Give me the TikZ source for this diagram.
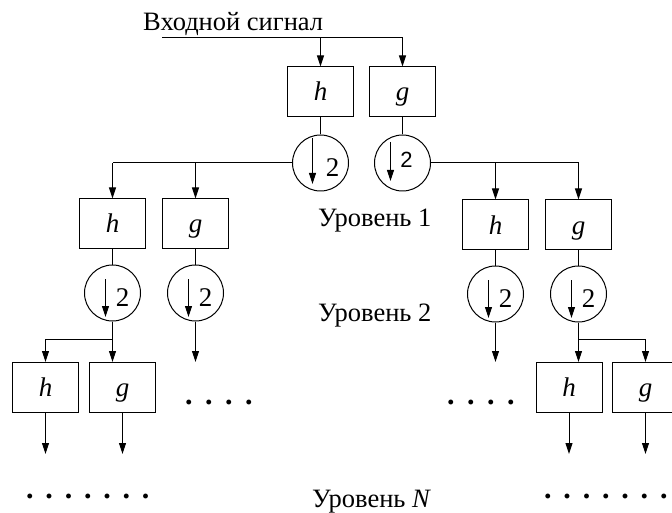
\documentclass[tikz,border=0pt]{standalone}
\usepackage{fontspec}
\setmainfont{Liberation Serif}
\newfontfamily\sansf{Liberation Sans}
\usetikzlibrary{arrows.meta,calc}
\tikzset{
  ln/.style={line width=1pt},
  arr/.style={line width=1pt,-{Triangle[length=11pt,width=7pt]}},
  box/.style={draw,line width=1pt,minimum width=66pt,minimum height=50pt,inner sep=0pt,text height=20pt,text depth=2pt,font=\fontsize{27}{30}\selectfont\itshape},
  dec/.style={draw,circle,line width=1pt,minimum size=56pt,inner sep=0pt},
  lbl/.style={font=\fontsize{26.5}{30}\selectfont,inner sep=0pt},
  dts/.style={font=\fontsize{30}{30}\selectfont\bfseries,inner sep=0pt},
  two/.style={font=\fontsize{27}{30}\selectfont,inner sep=0pt},
}
\begin{document}
\begin{tikzpicture}[x=1pt,y=-1pt]
\useasboundingbox (0,0) rectangle (672,513);
\clip (0,0) rectangle (672,513);
% title
\node[lbl,anchor=base west] (title) at (143,31) {Входной сигнал};
\coordinate (in) at (162,38);
\coordinate (inh) at (320.5,38);
\coordinate (ing) at (402.5,38);
% level 0
\node[box] (h0) at (320.5,92) {h};
\node[box] (g0) at (402.5,92) {g};
\node[dec] (ch0) at (320.5,163) {};
\node[dec] (cg0) at (402.5,163) {};
\draw[ln] (in) -- (ing);
\draw[arr] (inh) -- (h0.north);
\draw[arr] (ing) -- (g0.north);
\draw[ln] (h0.south) -- (ch0.north);
\draw[ln] (g0.south) -- (cg0.north);
% level 1 nodes
\node[box] (h1) at (112.5,224) {h};
\node[box] (g1) at (195.5,224) {g};
\node[box] (h2) at (495.5,225) {h};
\node[box] (g2) at (578.5,225) {g};
\coordinate (a1) at (112.5,163);
\coordinate (a2) at (195.5,163);
\coordinate (a3) at (495.5,163);
\coordinate (a4) at (578.5,163);
\draw[ln] (ch0.west) -- (a1);
\draw[arr] (a1) -- (h1.north);
\draw[arr] (a2) -- (g1.north);
\draw[ln] (cg0.east) -- (a4);
\draw[arr] (a3) -- (h2.north);
\draw[arr] (a4) -- (g2.north);
\node[dec] (ch1) at (112.5,293) {};
\node[dec] (cg1) at (195.5,293) {};
\node[dec] (ch2) at (495.5,294) {};
\node[dec] (cg2) at (578.5,294) {};
\draw[ln] (h1.south) -- (ch1.north);
\draw[ln] (g1.south) -- (cg1.north);
\draw[ln] (h2.south) -- (ch2.north);
\draw[ln] (g2.south) -- (cg2.north);
% down-sample symbols
\draw[arr] ($(ch0)+(-8,-25)$) -- ($(ch0)+(-8,21)$);
\node[two] (t0) at ($(ch0)+(12,5)$) {2};
\draw[arr] ($(cg0)+(-12,-21)$) -- ($(cg0)+(-12,18)$);
\node[two,font=\fontsize{22}{24}\sansf] (t1) at ($(cg0)+(4,-3)$) {2};
\foreach \c/\n in {ch1/t2,cg1/t3,ch2/t4,cg2/t5}{
  \draw[arr] ($(\c)+(-7,-14)$) -- ($(\c)+(-7,24)$);
  \node[two] (\n) at ($(\c)+(10,5)$) {2};
}
% level 2
\node[box] (h3) at (45.5,387.5) {h};
\node[box] (g3) at (122.5,387.5) {g};
\node[box] (h4) at (569,387.5) {h};
\node[box] (g4) at (645.5,387.5) {g};
\coordinate (b1) at (112.5,339);
\coordinate (b0) at (45.5,339);
\coordinate (b2) at (578.5,339);
\coordinate (b3) at (645.5,339);
\draw[ln] (ch1.south) -- (b1) -- (b0);
\draw[arr] (b0) -- (h3.north);
\draw[arr] (b1) -- (b1 |- g3.north);
\draw[ln] (cg2.south) -- (b2) -- (b3);
\draw[arr] (b2) -- (b2 |- h4.north);
\draw[arr] (b3) -- (g4.north);
\coordinate (e1) at (195.5,362);
\coordinate (e2) at (495.5,362);
\draw[arr] (cg1.south) -- (e1);
\draw[arr] (ch2.south) -- (e2);
% outputs
\coordinate (o1) at (45.5,454);
\coordinate (o2) at (122.5,454);
\coordinate (o3) at (569,454);
\coordinate (o4) at (645.5,454);
\draw[arr] (h3.south) -- (o1);
\draw[arr] (g3.south) -- (o2);
\draw[arr] (h4.south) -- (o3);
\draw[arr] (g4.south) -- (o4);
% dots
\node[dts,anchor=base west] (d1) at (185,404) {.\hspace{12.5pt}.\hspace{12.5pt}.\hspace{12.5pt}.};
\node[dts,anchor=base west] (d2) at (447,404) {.\hspace{12.5pt}.\hspace{12.5pt}.\hspace{12.5pt}.};
\node[dts,anchor=base west] (d3) at (26,498) {.\hspace{11.8pt}.\hspace{11.8pt}.\hspace{11.8pt}.\hspace{11.8pt}.\hspace{11.8pt}.\hspace{11.8pt}.};
\node[dts,anchor=base west] (d4) at (544,498) {.\hspace{11.8pt}.\hspace{11.8pt}.\hspace{11.8pt}.\hspace{11.8pt}.\hspace{11.8pt}.\hspace{11.8pt}.};
% level labels
\node[lbl,anchor=base west] (L1) at (318,226) {Уровень 1};
\node[lbl,anchor=base west] (L2) at (318,321) {Уровень 2};
\node[lbl,anchor=base west] (LN) at (312,507) {Уровень \textit{N}};
\end{tikzpicture}
\end{document}
